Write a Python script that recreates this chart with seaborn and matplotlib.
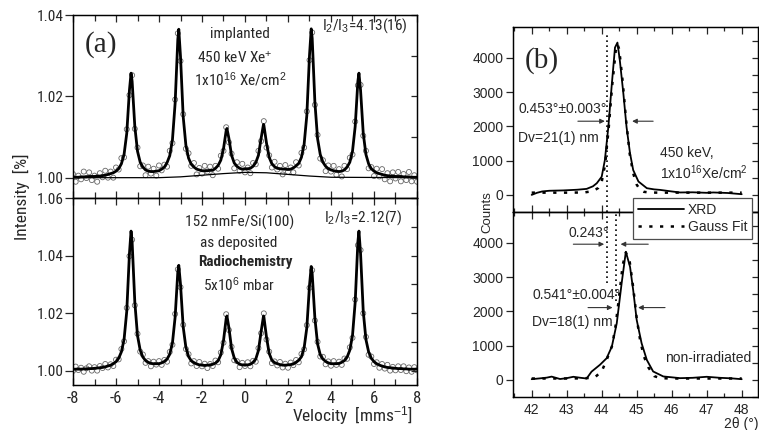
import matplotlib
matplotlib.use("Agg")
import matplotlib.pyplot as plt
import seaborn as sns
import pandas as pd
from matplotlib import font_manager
from matplotlib.font_manager import FontProperties
from matplotlib.ticker import MultipleLocator, FormatStrFormatter

# ---------------- panel (a): Moessbauer spectra ----------------
vel = [-8.0, -7.875, -7.75, -7.625, -7.5, -7.375, -7.25, -7.125,
       -7.0, -6.875, -6.75, -6.625, -6.5, -6.375, -6.25, -6.125,
       -6.0, -5.875, -5.75, -5.625, -5.5, -5.375, -5.25, -5.125,
       -5.0, -4.875, -4.75, -4.625, -4.5, -4.375, -4.25, -4.125,
       -4.0, -3.875, -3.75, -3.625, -3.5, -3.375, -3.25, -3.125,
       -3.0, -2.875, -2.75, -2.625, -2.5, -2.375, -2.25, -2.125,
       -2.0, -1.875, -1.75, -1.625, -1.5, -1.375, -1.25, -1.125,
       -1.0, -0.875, -0.75, -0.625, -0.5, -0.375, -0.25, -0.125,
       0.0, 0.125, 0.25, 0.375, 0.5, 0.625, 0.75, 0.875,
       1.0, 1.125, 1.25, 1.375, 1.5, 1.625, 1.75, 1.875,
       2.0, 2.125, 2.25, 2.375, 2.5, 2.625, 2.75, 2.875,
       3.0, 3.125, 3.25, 3.375, 3.5, 3.625, 3.75, 3.875,
       4.0, 4.125, 4.25, 4.375, 4.5, 4.625, 4.75, 4.875,
       5.0, 5.125, 5.25, 5.375, 5.5, 5.625, 5.75, 5.875,
       6.0, 6.125, 6.25, 6.375, 6.5, 6.625, 6.75, 6.875,
       7.0, 7.125, 7.25, 7.375, 7.5, 7.625, 7.75, 7.875,
       8.0]

int_implanted = [1.0009, 0.9990, 1.0005, 0.9996, 1.0015, 0.9999, 1.0013, 0.9994,
                 1.0005, 0.9990, 1.0011, 1.0001, 1.0017, 1.0000, 1.0015, 1.0000,
                 1.0025, 1.0020, 1.0048, 1.0050, 1.0119, 1.0203, 1.0252, 1.0120,
                 1.0074, 1.0028, 1.0030, 1.0006, 1.0027, 1.0010, 1.0022, 1.0005,
                 1.0030, 1.0018, 1.0032, 1.0027, 1.0066, 1.0085, 1.0192, 1.0355,
                 1.0287, 1.0156, 1.0071, 1.0060, 1.0029, 1.0036, 1.0008, 1.0024,
                 1.0010, 1.0029, 1.0015, 1.0027, 1.0006, 1.0029, 1.0022, 1.0054,
                 1.0066, 1.0124, 1.0087, 1.0059, 1.0023, 1.0038, 1.0017, 1.0034,
                 1.0013, 1.0025, 1.0011, 1.0036, 1.0033, 1.0066, 1.0090, 1.0139,
                 1.0074, 1.0055, 1.0025, 1.0039, 1.0020, 1.0029, 1.0008, 1.0031,
                 1.0014, 1.0025, 1.0013, 1.0038, 1.0030, 1.0061, 1.0074, 1.0163,
                 1.0289, 1.0357, 1.0179, 1.0105, 1.0047, 1.0043, 1.0016, 1.0030,
                 1.0015, 1.0029, 1.0007, 1.0021, 1.0003, 1.0029, 1.0021, 1.0049,
                 1.0057, 1.0138, 1.0227, 1.0228, 1.0103, 1.0066, 1.0023, 1.0026,
                 1.0004, 1.0022, 1.0003, 1.0021, 0.9996, 1.0011, 0.9991, 1.0013,
                 0.9998, 1.0014, 0.9991, 1.0009, 0.9994, 1.0014, 0.9991, 1.0006,
                 0.9990]

int_deposited = [0.9999, 1.0014, 1.0002, 1.0010, 0.9996, 1.0008, 1.0015, 1.0000,
                 1.0012, 1.0000, 1.0016, 1.0009, 1.0023, 1.0011, 1.0022, 1.0016,
                 1.0038, 1.0039, 1.0075, 1.0102, 1.0218, 1.0398, 1.0455, 1.0227,
                 1.0128, 1.0066, 1.0056, 1.0027, 1.0033, 1.0015, 1.0031, 1.0021,
                 1.0033, 1.0020, 1.0037, 1.0031, 1.0065, 1.0090, 1.0197, 1.0352,
                 1.0290, 1.0159, 1.0075, 1.0057, 1.0025, 1.0033, 1.0016, 1.0030,
                 1.0015, 1.0024, 1.0009, 1.0023, 1.0016, 1.0035, 1.0029, 1.0063,
                 1.0097, 1.0196, 1.0141, 1.0083, 1.0036, 1.0033, 1.0012, 1.0027,
                 1.0016, 1.0029, 1.0015, 1.0034, 1.0031, 1.0078, 1.0130, 1.0199,
                 1.0108, 1.0066, 1.0026, 1.0032, 1.0018, 1.0030, 1.0011, 1.0024,
                 1.0010, 1.0028, 1.0019, 1.0037, 1.0029, 1.0058, 1.0074, 1.0158,
                 1.0288, 1.0349, 1.0174, 1.0100, 1.0049, 1.0048, 1.0022, 1.0032,
                 1.0017, 1.0033, 1.0020, 1.0031, 1.0020, 1.0042, 1.0041, 1.0081,
                 1.0114, 1.0247, 1.0436, 1.0419, 1.0199, 1.0117, 1.0055, 1.0049,
                 1.0023, 1.0029, 1.0010, 1.0023, 1.0007, 1.0020, 1.0000, 1.0013,
                 1.0001, 1.0015, 1.0002, 1.0015, 0.9998, 1.0011, 0.9996, 1.0012,
                 1.0001]

vel_fit = [-8.0, -7.875, -7.75, -7.625, -7.5, -7.375, -7.25, -7.125,
           -7.0, -6.875, -6.75, -6.625, -6.5, -6.375, -6.25, -6.125,
           -6.0, -5.875, -5.75, -5.625, -5.5, -5.375, -5.3, -5.25, -5.125,
           -5.0, -4.875, -4.75, -4.625, -4.5, -4.375, -4.25, -4.125,
           -4.0, -3.875, -3.75, -3.625, -3.5, -3.375, -3.25, -3.125, -3.08,
           -3.0, -2.875, -2.75, -2.625, -2.5, -2.375, -2.25, -2.125,
           -2.0, -1.875, -1.75, -1.625, -1.5, -1.375, -1.25, -1.125,
           -1.0, -0.875, -0.84, -0.75, -0.625, -0.5, -0.375, -0.25, -0.125,
           0.0, 0.125, 0.25, 0.375, 0.5, 0.625, 0.75, 0.86, 0.875,
           1.0, 1.125, 1.25, 1.375, 1.5, 1.625, 1.75, 1.875,
           2.0, 2.125, 2.25, 2.375, 2.5, 2.625, 2.75, 2.875,
           3.0, 3.08, 3.125, 3.25, 3.375, 3.5, 3.625, 3.75, 3.875,
           4.0, 4.125, 4.25, 4.375, 4.5, 4.625, 4.75, 4.875,
           5.0, 5.125, 5.25, 5.3, 5.375, 5.5, 5.625, 5.75, 5.875,
           6.0, 6.125, 6.25, 6.375, 6.5, 6.625, 6.75, 6.875,
           7.0, 7.125, 7.25, 7.375, 7.5, 7.625, 7.75, 7.875, 8.0]

fit_implanted = [1.0001, 1.0001, 1.0001, 1.0002, 1.0002, 1.0002, 1.0003, 1.0003,
                 1.0003, 1.0004, 1.0004, 1.0005, 1.0006, 1.0008, 1.0010, 1.0012,
                 1.0016, 1.0022, 1.0034, 1.0057, 1.0109, 1.0215, 1.0257, 1.0237, 1.0126,
                 1.0065, 1.0038, 1.0026, 1.0019, 1.0016, 1.0015, 1.0015, 1.0016,
                 1.0017, 1.0021, 1.0026, 1.0037, 1.0054, 1.0093, 1.0183, 1.0340, 1.0365,
                 1.0298, 1.0150, 1.0080, 1.0048, 1.0033, 1.0026, 1.0021, 1.0019,
                 1.0017, 1.0017, 1.0017, 1.0018, 1.0018, 1.0023, 1.0030, 1.0043,
                 1.0071, 1.0116, 1.0121, 1.0097, 1.0055, 1.0036, 1.0028, 1.0023, 1.0021,
                 1.0022, 1.0022, 1.0023, 1.0028, 1.0037, 1.0055, 1.0097, 1.0131, 1.0130,
                 1.0085, 1.0050, 1.0034, 1.0027, 1.0023, 1.0022, 1.0021, 1.0021,
                 1.0020, 1.0021, 1.0024, 1.0029, 1.0035, 1.0050, 1.0082, 1.0153,
                 1.0301, 1.0366, 1.0343, 1.0186, 1.0096, 1.0057, 1.0038, 1.0028, 1.0022,
                 1.0019, 1.0017, 1.0016, 1.0015, 1.0016, 1.0019, 1.0026, 1.0038,
                 1.0065, 1.0126, 1.0237, 1.0257, 1.0215, 1.0109, 1.0057, 1.0034, 1.0022,
                 1.0016, 1.0012, 1.0010, 1.0008, 1.0006, 1.0005, 1.0004, 1.0004,
                 1.0003, 1.0003, 1.0003, 1.0002, 1.0002, 1.0002, 1.0001, 1.0001, 1.0001]

fit_deposited = [1.0005, 1.0005, 1.0005, 1.0005, 1.0006, 1.0006, 1.0007, 1.0007,
                 1.0008, 1.0009, 1.0010, 1.0011, 1.0013, 1.0016, 1.0019, 1.0024,
                 1.0031, 1.0043, 1.0065, 1.0108, 1.0206, 1.0407, 1.0485, 1.0447, 1.0238,
                 1.0122, 1.0071, 1.0047, 1.0035, 1.0029, 1.0025, 1.0024, 1.0024,
                 1.0024, 1.0027, 1.0032, 1.0040, 1.0057, 1.0096, 1.0186, 1.0343, 1.0366,
                 1.0300, 1.0152, 1.0081, 1.0049, 1.0034, 1.0028, 1.0023, 1.0020,
                 1.0019, 1.0018, 1.0019, 1.0020, 1.0022, 1.0026, 1.0034, 1.0055,
                 1.0104, 1.0182, 1.0190, 1.0150, 1.0077, 1.0044, 1.0029, 1.0022, 1.0020,
                 1.0019, 1.0020, 1.0022, 1.0029, 1.0040, 1.0070, 1.0136, 1.0190, 1.0189,
                 1.0116, 1.0060, 1.0036, 1.0028, 1.0024, 1.0021, 1.0019, 1.0019,
                 1.0020, 1.0021, 1.0023, 1.0029, 1.0036, 1.0048, 1.0079, 1.0149,
                 1.0296, 1.0362, 1.0337, 1.0183, 1.0093, 1.0055, 1.0040, 1.0032, 1.0027,
                 1.0024, 1.0024, 1.0024, 1.0025, 1.0029, 1.0035, 1.0047, 1.0071,
                 1.0122, 1.0238, 1.0447, 1.0485, 1.0407, 1.0206, 1.0108, 1.0065, 1.0043,
                 1.0031, 1.0024, 1.0019, 1.0016, 1.0013, 1.0011, 1.0010, 1.0009,
                 1.0008, 1.0007, 1.0007, 1.0006, 1.0006, 1.0005, 1.0005, 1.0005, 1.0005]

bg_vel = [-8.0, -4.0, -3.0, -2.0, -1.0, 0.0, 1.0, 2.0, 3.0, 4.0, 8.0]
bg_implanted = [1.0000, 1.0000, 1.0002, 1.0006, 1.0010, 1.0013, 1.0012, 1.0008, 1.0004, 1.0001, 1.0000]

# ---------------- panel (b): XRD ----------------
tt_xrd_irr = [42.0, 42.15, 42.3, 42.5, 42.9, 43.3, 43.57, 43.75, 43.86, 44.0, 44.09,
              44.19, 44.29, 44.38, 44.45, 44.52, 44.62, 44.71, 44.81, 44.9, 45.05,
              45.29, 45.5, 45.67, 46.0, 46.24, 46.6, 47.0, 47.19, 47.6, 48.0]
cnt_xrd_irr = [0, 60, 100, 120, 130, 150, 175, 250, 340, 530, 1010,
               1980, 3240, 4300, 4445, 3910, 2950, 1980, 1210, 725, 390,
               195, 160, 145, 100, 70, 75, 60, 70, 55, 20]
tt_fit_irr = [42.0, 42.5, 43.0, 43.5, 43.75, 43.9, 44.0, 44.1, 44.2, 44.3, 44.4, 44.45,
              44.5, 44.6, 44.7, 44.8, 44.9, 45.0, 45.1, 45.2, 45.35, 45.6, 46.0, 46.5,
              47.0, 47.5, 48.0]
cnt_fit_irr = [65, 65, 65, 70, 110, 200, 380, 900, 1950, 3200, 4200, 4400,
               4250, 3300, 2150, 1200, 630, 300, 140, 90, 70, 65, 65, 65,
               65, 65, 65]

tt_xrd_non = [42.0, 42.2, 42.43, 42.57, 42.81, 43.0, 43.19, 43.4, 43.57, 43.71, 43.95,
              44.14, 44.29, 44.43, 44.57, 44.69, 44.81, 44.9, 45.0, 45.14, 45.29,
              45.47, 45.76, 46.24, 46.6, 47.0, 47.38, 47.7, 48.0]
cnt_xrd_non = [20, 40, 65, 95, 25, 50, 90, 60, 40, 240, 440,
               630, 970, 1650, 2820, 3740, 3300, 2620, 1750, 1070, 580,
               245, 100, 50, 60, 90, 60, 45, 20]
tt_fit_non = [42.0, 42.5, 43.0, 43.5, 43.8, 44.0, 44.14, 44.3, 44.4, 44.5, 44.6, 44.69,
              44.8, 44.9, 45.0, 45.1, 45.2, 45.33, 45.5, 45.67, 46.0, 46.5, 47.0, 47.5, 48.0]
cnt_fit_non = [40, 40, 40, 45, 70, 250, 580, 1000, 1600, 2450, 3350, 3720,
               3450, 2700, 1800, 1150, 700, 370, 110, 50, 40, 40, 40, 40, 40]

# guide lines and arrows (data units)
peak_pos_irr = 44.16
peak_pos_non = 44.40
fwhm_irr = {"y": 2150, "left": (43.32, 44.09), "right": (45.47, 44.87)}
fwhm_non = {"y": 2110, "left": (43.61, 44.31), "right": (45.81, 45.04)}
shift_arr = {"y": 3960, "left": (43.19, 44.07), "right": (45.33, 44.54)}

# ---------------- style ----------------
sns.set_theme(style="ticks")
SANS = "Liberation Sans"
SERIF = "Liberation Serif"
plt.rcParams["font.family"] = [SANS, "DejaVu Sans"]
plt.rcParams["mathtext.fontset"] = "custom"
plt.rcParams["mathtext.rm"] = SANS
plt.rcParams["mathtext.it"] = SANS + ":italic"
plt.rcParams["mathtext.bf"] = SANS + ":bold"
plt.rcParams["axes.linewidth"] = 0.9
plt.rcParams["axes.edgecolor"] = "black"
plt.rcParams["axes.unicode_minus"] = False


def find_narrow(bold=False):
    files = [f.fname for f in font_manager.fontManager.ttflist]
    prefs = (["LiberationSansNarrow-Bold", "RobotoCondensed-Bold", "DejaVuSansCondensed-Bold"]
             if bold else
             ["LiberationSansNarrow-Regular", "RobotoCondensed-Regular", "DejaVuSansCondensed."])
    for p in prefs:
        for fn in files:
            if p in fn.replace("\\", "/").split("/")[-1]:
                return fn
    return None


def narrow_fp(size, bold=False):
    fn = find_narrow(bold)
    if fn:
        return FontProperties(fname=fn, size=size)
    return FontProperties(family=SANS, size=size * 0.93,
                          weight="bold" if bold else "normal")


W, H = 759, 430
fig = plt.figure(figsize=(W / 100, H / 100), dpi=100)
fig.patch.set_facecolor("white")


def fx(px):
    return px / W


def fy(py):
    return 1 - py / H


axA1 = fig.add_axes([fx(73), fy(198), (417 - 73) / W, (198 - 15) / H])
axA2 = fig.add_axes([fx(73), fy(385), (417 - 73) / W, (385 - 198) / H])
axB1 = fig.add_axes([fx(513), fy(212), (758 - 513) / W, (212 - 27) / H])
axB2 = fig.add_axes([fx(513), fy(397), (758 - 513) / W, (397 - 212) / H])

# ---------- panel (a) drawing ----------
dfA = pd.DataFrame({"v": vel, "imp": int_implanted, "dep": int_deposited})
dfF = pd.DataFrame({"v": vel_fit, "imp": fit_implanted, "dep": fit_deposited})
dfBG = pd.DataFrame({"v": bg_vel, "bg": bg_implanted})

for ax, col in [(axA1, "imp"), (axA2, "dep")]:
    sns.scatterplot(data=dfA, x="v", y=col, ax=ax, marker="o", s=13,
                    facecolors="none", edgecolor="0.4", linewidth=0.6, zorder=2)
    sns.lineplot(data=dfF, x="v", y=col, ax=ax, color="black", lw=2.0,
                 estimator=None, sort=False, zorder=3)
sns.lineplot(data=dfBG, x="v", y="bg", ax=axA1, color="black", lw=0.9,
             estimator=None, sort=False, zorder=3)

for ax in (axA1, axA2):
    ax.set_xlim(-8, 8)
    ax.xaxis.set_major_locator(MultipleLocator(2))
    ax.xaxis.set_minor_locator(MultipleLocator(1))
    ax.tick_params(axis="x", which="both", direction="in", top=True, bottom=True, width=0.9)
    ax.tick_params(axis="x", which="major", length=5)
    ax.tick_params(axis="x", which="minor", length=4)
    ax.tick_params(axis="y", which="major", direction="out", length=6, width=0.9, pad=1)
    ax.set_xlabel("")
    ax.set_ylabel("")
    ax.yaxis.set_major_formatter(FormatStrFormatter("%.2f"))

axA1.set_ylim(0.995, 1.04)
axA1.set_yticks([1.00, 1.02, 1.04])
axA2.set_ylim(0.995, 1.06)
axA2.set_yticks([1.00, 1.02, 1.04, 1.06])
axA1.tick_params(labelbottom=False)
axA2.set_xticks([-8, -6, -4, -2, 0, 2, 4, 6, 8])
axA2.set_xticklabels(["-8", "-6", "-4", "-2", "0", "2", "4", "6", "8"])
axA1.set_yticklabels(["1.00", "1.02", "1.04"])
axA2.set_yticklabels(["1.00", "1.02", "1.04", "1.06"])
for lab in axA1.get_yticklabels() + axA2.get_yticklabels():
    lab.set_fontproperties(narrow_fp(11))
for lab in axA2.get_xticklabels():
    lab.set_fontproperties(narrow_fp(12))
axA2.tick_params(axis="x", pad=4)


def right_ticks(ax, step):
    tw = ax.twinx()
    tw.set_ylim(ax.get_ylim())
    tw.yaxis.set_major_locator(MultipleLocator(step))
    tw.tick_params(axis="y", direction="in", length=4, width=0.9, labelright=False)
    tw.grid(False)
    return tw


right_ticks(axA1, 0.01)
right_ticks(axA2, 0.01)

ta = dict(fontproperties=narrow_fp(11), ha="center", va="center")
axA1.text(-7.45, 1.0328, "(a)", fontfamily=SERIF, fontsize=21, ha="left", va="center")
axA1.text(-0.23, 1.0353, "implanted", **ta)
axA1.text(-0.47, 1.0296, "450 keV Xe$^{+}$", **ta)
axA1.text(-0.23, 1.0242, "1x10$^{16}$ Xe/cm$^{2}$", **ta)
axA1.text(5.6, 1.0375, "I$_{2}$/I$_{3}$=4.13(16)", **ta)
axA2.text(5.5, 1.0532, "I$_{2}$/I$_{3}$=2.12(7)", **ta)
axA2.text(-0.23, 1.0515, "152 nmFe/Si(100)", **ta)
axA2.text(-0.3, 1.0445, "as deposited", **ta)
axA2.text(0.0, 1.0376, "Radiochemistry", fontproperties=narrow_fp(11, bold=True),
          ha="center", va="center")
axA2.text(-0.3, 1.0299, "5x10$^{6}$ mbar", **ta)

fig.text(fx(21), fy(197), "Intensity  [%]", rotation=90, fontproperties=narrow_fp(12.5),
         ha="center", va="center")
fig.text(fx(413), fy(416), "Velocity  [mms$^{-1}$]", fontproperties=narrow_fp(12.5),
         ha="right", va="center")

# ---------- panel (b) drawing ----------
dotted_fit = (0, (1.3, 3.0))
sns.lineplot(x=tt_xrd_irr, y=cnt_xrd_irr, ax=axB1, color="black", lw=1.3,
             estimator=None, sort=False, label="XRD")
sns.lineplot(x=tt_fit_irr, y=cnt_fit_irr, ax=axB1, color="black", lw=1.8,
             linestyle=dotted_fit, estimator=None, sort=False, label="Gauss Fit")
sns.lineplot(x=tt_xrd_non, y=cnt_xrd_non, ax=axB2, color="black", lw=1.3,
             estimator=None, sort=False)
sns.lineplot(x=tt_fit_non, y=cnt_fit_non, ax=axB2, color="black", lw=1.8,
             linestyle=dotted_fit, estimator=None, sort=False)
handles, labels = axB1.get_legend_handles_labels()
if axB1.get_legend() is not None:
    axB1.get_legend().remove()

guide = dict(color="black", lw=1.2, linestyle=(0, (1, 2)))
axB1.vlines(peak_pos_irr, -500, 4700, **guide)
axB2.vlines(peak_pos_irr, 2830, 4900, **guide)
axB2.vlines(peak_pos_non, 2300, 4900, **guide)


def arrow(ax, spec):
    for side in ("left", "right"):
        tail, head = spec[side]
        ax.annotate("", xy=(head, spec["y"]), xytext=(tail, spec["y"]),
                    arrowprops=dict(arrowstyle="-|>", color="0.2", lw=0.8,
                                    mutation_scale=7, shrinkA=0, shrinkB=0))


arrow(axB1, fwhm_irr)
arrow(axB2, fwhm_non)
arrow(axB2, shift_arr)

for ax in (axB1, axB2):
    ax.set_xlim(41.466, 48.466)
    ax.set_ylim(-500, 4900)
    ax.xaxis.set_major_locator(MultipleLocator(1))
    ax.xaxis.set_minor_locator(MultipleLocator(0.5))
    ax.yaxis.set_major_locator(MultipleLocator(1000))
    ax.tick_params(axis="x", which="both", direction="in", top=True, bottom=True, width=0.9)
    ax.tick_params(axis="x", which="major", length=5)
    ax.tick_params(axis="x", which="minor", length=3)
    ax.tick_params(axis="y", direction="out", length=5, width=0.9, pad=2, labelsize=10)
    ax.tick_params(axis="x", labelsize=10, pad=4)
    ax.set_xlabel("")
    ax.set_ylabel("")
axB1.tick_params(labelbottom=False)
right_ticks(axB1, 500)
right_ticks(axB2, 500)

tb = dict(fontsize=10, ha="left", va="center")
axB1.text(41.81, 3913, "(b)", fontfamily=SERIF, fontsize=21, ha="left", va="center")
axB1.text(41.61, 2520, "0.453°±0.003°", **tb)
axB1.text(41.61, 1650, "Dv=21(1) nm", **tb)
axB1.text(45.67, 1217, "450 keV,", **tb)
axB1.text(45.67, 638, "1x10$^{16}$Xe/cm$^{2}$", **tb)
axB2.text(43.04, 4286, "0.243°", **tb)
axB2.text(42.01, 2478, "0.541°±0.004°", **tb)
axB2.text(42.01, 1691, "Dv=18(1) nm", **tb)
axB2.text(45.81, 641, "non-irradiated", **tb)

fig.text(fx(487), fy(212), "Counts", rotation=90, fontsize=9.5, ha="center", va="center")
fig.text(fx(758), fy(424), "2θ (°)", fontsize=10, ha="right", va="center")

leg = fig.legend(handles, labels, loc="upper left", bbox_to_anchor=(fx(633), fy(198)),
                 frameon=True, fancybox=False, edgecolor="0.3", framealpha=1,
                 borderpad=0.35, handlelength=3.3, handletextpad=0.3,
                 labelspacing=0.2, fontsize=10, borderaxespad=0)
leg.get_frame().set_linewidth(0.9)

fig.savefig("out.png", dpi=100, facecolor="white")
